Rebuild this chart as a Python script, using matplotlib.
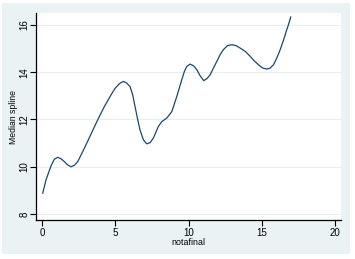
import matplotlib
matplotlib.use("Agg")
import matplotlib.pyplot as plt
from matplotlib.patches import Rectangle

# Data (median spline of y vs notafinal)
notafinal = [0.05, 0.27, 0.61, 0.84, 1.07, 1.30, 1.52, 1.75, 1.98, 2.21, 2.44, 2.89,
             3.35, 3.80, 4.26, 4.78, 5.01, 5.28, 5.55, 5.78, 6.01, 6.19, 6.35, 6.51,
             6.69, 6.92, 7.15, 7.38, 7.60, 7.94, 8.18, 8.52, 8.86, 9.20, 9.54, 9.72,
             9.88, 10.11, 10.34, 10.57, 10.79, 11.04, 11.25, 11.48, 11.70, 11.93,
             12.16, 12.38, 12.66, 12.96, 13.25, 13.52, 13.87, 14.21, 14.48, 14.78,
             15.07, 15.35, 15.57, 15.80, 16.03, 16.26, 16.48, 16.67, 16.82, 16.98]
median_spline = [8.88, 9.44, 10.03, 10.32, 10.40, 10.34, 10.22, 10.08, 10.00, 10.06,
                 10.22, 10.78, 11.39, 11.98, 12.55, 13.11, 13.33, 13.51, 13.61, 13.54,
                 13.39, 13.04, 12.55, 12.06, 11.56, 11.14, 10.97, 11.02, 11.21, 11.70,
                 11.91, 12.06, 12.33, 12.97, 13.68, 14.03, 14.24, 14.34, 14.27, 14.10,
                 13.85, 13.64, 13.72, 13.89, 14.17, 14.45, 14.74, 14.95, 15.12, 15.16,
                 15.12, 15.02, 14.88, 14.67, 14.48, 14.31, 14.17, 14.13, 14.17, 14.31,
                 14.60, 14.95, 15.34, 15.72, 16.00, 16.33]
xticks = [0, 5, 10, 15, 20]
yticks = [8, 10, 12, 14, 16]

plt.rcParams['font.family'] = ['Liberation Sans', 'DejaVu Sans']

W, H = 355, 259
fig = plt.figure(figsize=(W / 100, H / 100), dpi=100, facecolor='white')

# Stata-like graph region background
bg = fig.add_axes([0, 0, 1, 1], zorder=-5)
bg.set_xlim(0, W)
bg.set_ylim(H, 0)
bg.axis('off')
bg.add_patch(Rectangle((2, 3), 348, 251, facecolor='#EAF2F3', edgecolor='none'))

left, right, top, bottom = 36, 341, 13, 220
ax = fig.add_axes([left / W, (H - bottom) / H, (right - left) / W, (bottom - top) / H], zorder=1)
ax.set_facecolor('white')

ax.plot(notafinal, median_spline, color='#1A476F', lw=0.9, zorder=3,
        solid_joinstyle='round', antialiased=True)

ax.set_xlim(-0.41, 20.41)
ax.set_ylim(7.75, 16.5)
ax.set_xticks(xticks)
ax.set_yticks(yticks)
ax.set_xticklabels([str(t) for t in xticks], fontsize=7)
ax.set_yticklabels([str(t) for t in yticks], fontsize=7, rotation=90, va='center')
ax.tick_params(axis='x', direction='out', length=4, width=0.8, color='black', pad=2)
ax.tick_params(axis='y', direction='out', length=4, width=0.8, color='black', pad=0.5)

ax.grid(axis='y', color='#E6EEF0', lw=0.8, zorder=0)
ax.grid(axis='x', visible=False)

for s in ['top', 'right']:
    ax.spines[s].set_visible(False)
for s in ['left', 'bottom']:
    ax.spines[s].set_color('black')
    ax.spines[s].set_linewidth(0.9)

ax.set_ylabel('Median spline', fontsize=6.2, labelpad=1.5)
ax.set_xlabel('notafinal', fontsize=6.4, labelpad=0)

fig.savefig('out.png', dpi=100, facecolor='white')
